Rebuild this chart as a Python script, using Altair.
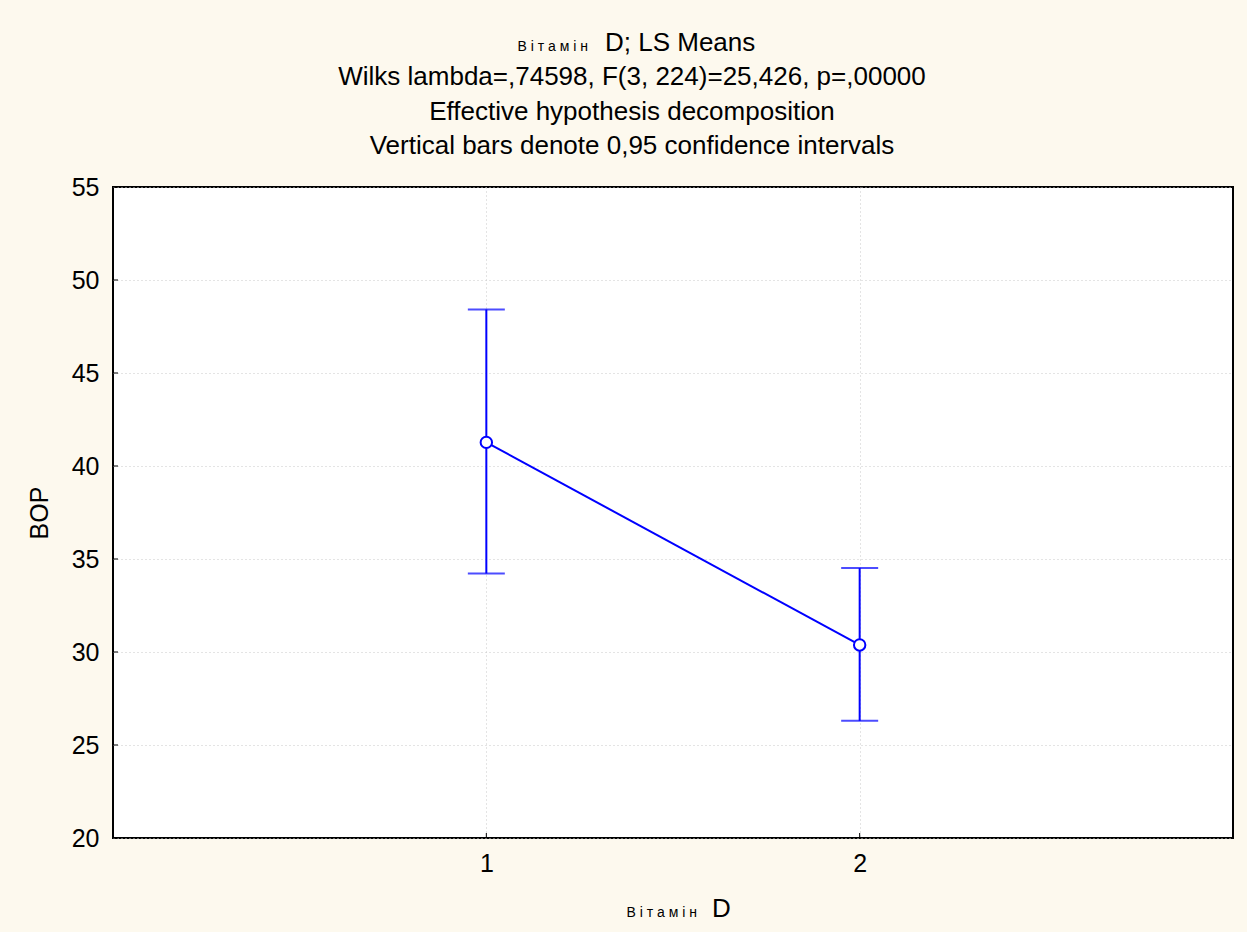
import altair as alt
import pandas as pd

# ---- data ----
levels = [1, 2]
means = [41.27, 30.38]
lower = [34.22, 26.30]
upper = [48.41, 34.51]
y_ticks = [20, 25, 30, 35, 40, 45, 50, 55]
x_ticks = [1, 2]

title_small = "В і т а м і н"
title_big = "D; LS Means"
title_lines = [
    "Wilks lambda=,74598, F(3, 224)=25,426, p=,00000",
    "Effective hypothesis decomposition",
    "Vertical bars denote 0,95 confidence intervals",
]
x_title_small = "В і т а м і н"
x_title_big = "D"
y_title = "BOP"

# ---- layout / style ----
W, H = 1120, 651
FONT = "Liberation Sans"
BLUE = "#0000FF"
FS = 25
TFS = 26
LW = 2

df = pd.DataFrame({"level": levels, "mean": means, "lower": lower, "upper": upper})

xscale = alt.Scale(domain=[0, 3], nice=False, zero=False)
yscale = alt.Scale(domain=[20, 55], nice=False, zero=False)

x_axis = alt.Axis(
    values=x_ticks, format="d", title=None,
    labelFontSize=FS, labelFont=FONT, labelColor="black", labelPadding=13,
    ticks=False, domain=False, grid=True,
    gridColor="#c8c8c8", gridDash=[1, 3], gridWidth=1,
)
y_axis = alt.Axis(
    values=y_ticks, title=y_title,
    labelFontSize=FS, labelFont=FONT, labelColor="black", labelPadding=14,
    ticks=False, domain=False, grid=True,
    gridColor="#c8c8c8", gridDash=[1, 3], gridWidth=1,
    titleFont=FONT, titleFontSize=FS, titleFontWeight="normal", titleColor="black",
    titleX=-74, titleY=H / 2, titleAngle=270, titleAlign="center", titleBaseline="middle",
)


def X(f):
    return alt.X(f, scale=xscale, axis=x_axis)


def Y(f):
    return alt.Y(f, scale=yscale, axis=y_axis)


base = alt.Chart(df)
line = base.mark_line(color=BLUE, strokeWidth=LW).encode(x=X("level:Q"), y=Y("mean:Q"))
bars = base.mark_rule(color=BLUE, strokeWidth=LW).encode(
    x=X("level:Q"), y=Y("lower:Q"), y2="upper:Q"
)
caps_hi = base.mark_tick(color=BLUE, orient="horizontal", size=37, thickness=LW).encode(
    x=X("level:Q"), y=Y("upper:Q")
)
caps_lo = base.mark_tick(color=BLUE, orient="horizontal", size=37, thickness=LW).encode(
    x=X("level:Q"), y=Y("lower:Q")
)
points = base.mark_point(
    shape="circle", filled=True, fill="white", stroke=BLUE, strokeWidth=LW, size=130, opacity=1
).encode(x=X("level:Q"), y=Y("mean:Q"))

# inward ticks
yt = alt.Chart(pd.DataFrame({"v": y_ticks})).mark_rule(color="black", strokeWidth=1).encode(
    y=Y("v:Q"), x=alt.value(0), x2=alt.value(5)
)
xt = alt.Chart(pd.DataFrame({"v": x_ticks})).mark_rule(color="black", strokeWidth=1).encode(
    x=X("v:Q"), y=alt.value(H), y2=alt.value(H - 5)
)

one = pd.DataFrame({"a": [0]})


def txt(s, x, y, size=TFS, align="center"):
    return alt.Chart(one).mark_text(
        text=s, font=FONT, fontSize=size, color="black", align=align, baseline="alphabetic"
    ).encode(x=alt.value(x), y=alt.value(y))


tc = 519
texts = [
    txt(title_small, 475, -136, size=14, align="right"),
    txt(title_big, 492, -136, align="left"),
    txt(title_lines[0], tc, -102),
    txt(title_lines[1], tc, -67),
    txt(title_lines[2], tc, -33),
    txt(x_title_small, 584, H + 79, size=14, align="right"),
    txt(x_title_big, 599, H + 79, align="left"),
]

chart = alt.layer(line, bars, caps_hi, caps_lo, points, yt, xt, *texts).properties(
    width=W, height=H,
    autosize=alt.AutoSizeParams(type="none"),
    padding={"left": 113, "top": 187, "right": 14, "bottom": 94},
    background="#FDF9EE",
).configure_view(stroke="black", strokeWidth=2, fill="white")

chart.save("out.html", embed_options={"renderer": "svg", "actions": False})
